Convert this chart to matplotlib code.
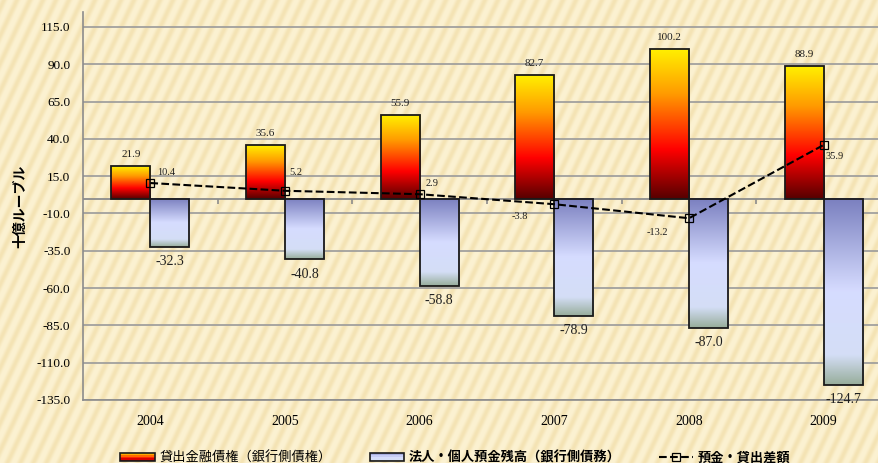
import numpy as np
import matplotlib
matplotlib.use("Agg")
import matplotlib.pyplot as plt
from matplotlib.colors import LinearSegmentedColormap
from matplotlib.patches import Rectangle
from matplotlib.lines import Line2D
from matplotlib.legend_handler import HandlerBase

plt.rcParams['font.family'] = ['Liberation Serif', 'Noto Sans CJK JP', 'DejaVu Sans']

years = ['2004', '2005', '2006', '2007', '2008', '2009']
loans = [21.9, 35.6, 55.9, 82.7, 100.2, 88.9]          # 貸出金融債権
deposits = [-32.3, -40.8, -58.8, -78.9, -87.0, -124.7]  # 法人・個人預金残高
gap = [10.4, 5.2, 2.9, -3.8, -13.2, 35.9]               # 預金・貸出差額
yticks = [115, 90, 65, 40, 15, -10, -35, -60, -85, -110, -135]

label_loans = '貸出金融債権（銀行側債権）'
label_dep = '法人・個人預金残高（銀行側債務）'
label_gap = '預金・貸出差額'

cmap_orange = LinearSegmentedColormap.from_list(
    'org', [(0.0, '#560000'), (0.33, '#ff0000'), (0.7, '#ff9a00'), (1.0, '#fff000')])
cmap_blue = LinearSegmentedColormap.from_list(
    'blu', [(0.0, '#97ad9a'), (0.16, '#d4def6'), (0.5, '#d6dcff'), (1.0, '#7a7fbf')])

W, H = 879, 463
fig = plt.figure(figsize=(W / 100, H / 100), dpi=100)

# striped beige background
bg = fig.add_axes([0, 0, 1, 1], zorder=-10)
xx, yy = np.meshgrid(np.arange(W), np.arange(H))
phase = np.sin(2 * np.pi * (xx + 0.47 * yy) / 13.0)
t = (0.5 + 0.5 * phase) ** 1.5
light = np.array([252, 242, 210]) / 255
dark = np.array([244, 227, 180]) / 255
img = light[None, None, :] * (1 - t[..., None]) + dark[None, None, :] * t[..., None]
bg.imshow(img, aspect='auto', interpolation='bilinear')
bg.axis('off')

ax = fig.add_axes([83 / W, (H - 400) / H, 808 / W, 388 / H])
ax.patch.set_alpha(0)

x = np.arange(len(years))
bw = 0.29
grad = np.linspace(0, 1, 256).reshape(-1, 1)

for xi, v in zip(x, loans):
    ax.imshow(grad, extent=[xi - bw, xi, 0, v], origin='lower', aspect='auto',
              cmap=cmap_orange, zorder=2, interpolation='bilinear')
    ax.annotate(f'{v:.1f}', (xi - bw / 2, v), xytext=(0, 8.5), textcoords='offset points',
                ha='center', va='center', fontsize=8, color='#202020')
ax.bar(x - bw / 2, loans, width=bw, facecolor='none', edgecolor='#1a1a1a', lw=1.3, zorder=3)

for xi, v in zip(x, deposits):
    ax.imshow(grad, extent=[xi, xi + bw, v, 0], origin='lower', aspect='auto',
              cmap=cmap_blue, zorder=2, interpolation='bilinear')
    ax.annotate(f'{v:.1f}', (xi + bw / 2, v), xytext=(0, -10.5), textcoords='offset points',
                ha='center', va='center', fontsize=10, color='#202020')
ax.bar(x + bw / 2, deposits, width=bw, facecolor='none', edgecolor='#1a1a1a', lw=1.3, zorder=3)

ax.plot(x, gap, color='black', ls='--', lw=1.5, marker='s', ms=6, mfc='none',
        mec='black', mew=0.9, zorder=5)
gap_offsets = [(5, 7.5), (3, 13.5), (4, 8), (-25, -8.5), (-23, -10), (1, -8.5)]
for xi, v, off in zip(x, gap, gap_offsets):
    ax.annotate(f'{v:.1f}', (xi, v), xytext=off, textcoords='offset points',
                ha='left' if off[0] > 0 else 'center', va='center', fontsize=7.5,
                color='#202020', zorder=6)

ax.set_xlim(-0.5, len(years) - 0.5)
ax.set_ylim(-135, 125)
ax.set_yticks(yticks)
ax.set_yticklabels([f'{t:.1f}' for t in yticks], fontsize=9.5)
ax.set_xticks(x)
ax.set_xticklabels(years, fontsize=10)
ax.tick_params(axis='x', length=0, pad=11)
ax.tick_params(axis='y', length=0, pad=9)
ax.grid(axis='y', color='#9a9a9a', lw=1.2)
ax.set_axisbelow(True)
ax.axhline(0, color='#8c8c8c', lw=1.3, zorder=1.5)
ax.vlines(np.arange(len(years) - 1) + 0.5, -3.5, 0, color='#8c8c8c', lw=1.2, zorder=1.5)
for s in ['top', 'right']:
    ax.spines[s].set_visible(False)
for s in ['left', 'bottom']:
    ax.spines[s].set_color('#8c8c8c')
    ax.spines[s].set_linewidth(1.2)

ax.set_ylabel('十億ルーブル', family=['Noto Sans CJK JP', 'DejaVu Sans'],
              fontsize=10, fontweight='bold')
ax.yaxis.set_label_coords(-0.069, 0.5)


class GradHandler(HandlerBase):
    def __init__(self, cmap, reverse=False):
        super().__init__()
        self.cmap = cmap
        self.reverse = reverse

    def create_artists(self, legend, orig_handle, xdescent, ydescent, width, height,
                       fontsize, trans):
        arts = []
        n = 6
        for i in range(n):
            f = (i + 0.5) / n
            c = self.cmap(1 - f if self.reverse else f)
            arts.append(Rectangle((-xdescent, -ydescent + height * i / n), width, height / n,
                                  facecolor=c, edgecolor='none', transform=trans))
        arts.append(Rectangle((-xdescent, -ydescent), width, height, facecolor='none',
                              edgecolor='#1a1a1a', lw=1.2, transform=trans))
        return arts


h1 = Rectangle((0, 0), 1, 1)
h2 = Rectangle((0, 0), 1, 1)
h3 = Line2D([], [], color='black', ls='--', lw=1.5, marker='s', ms=5.5, mfc='none', mew=0.9)
leg = fig.legend([h1, h2, h3], [label_loans, label_dep, label_gap], ncol=3,
                 loc='center', bbox_to_anchor=(0.518, 0.012), frameon=False,
                 handler_map={h1: GradHandler(cmap_orange), h2: GradHandler(cmap_blue)},
                 prop={'family': ['Noto Sans CJK JP', 'DejaVu Sans'], 'size': 9.5},
                 handlelength=2.6, handleheight=0.6, handletextpad=0.35, columnspacing=2.9)
for i, txt in enumerate(leg.get_texts()):
    if i > 0:
        txt.set_fontweight('bold')

fig.savefig('out.png', dpi=100)
